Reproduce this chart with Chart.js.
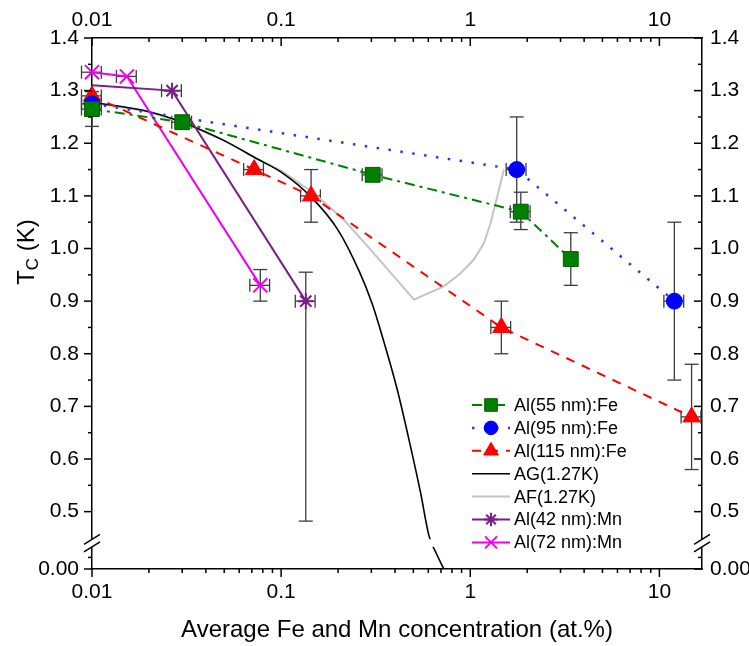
<!DOCTYPE html>
<html>
<head>
<meta charset="utf-8">
<script src="https://cdn.jsdelivr.net/npm/chart.js@4.4.1/dist/chart.umd.min.js"></script>
<style>
  body { margin: 0; background: #fff; }
  #wrap { width: 749px; height: 646px; }
</style>
</head>
<body>
<div id="wrap"><canvas id="myChart" width="749" height="646"></canvas></div>
<script>
// values
const fe55X = [0.01, 0.03, 0.305, 1.85, 3.4];
const fe55Y = [1.265, 1.24, 1.14, 1.07, 0.98];
const fe55Lo = [1.232, null, null, 1.036, 0.93];
const fe55Hi = [1.298, null, null, 1.107, 1.03];
const fe55Xerr = [0.12, 0.12, 0.12, 0.12, 0];

const fe95X = [0.01, 1.76, 12];
const fe95Y = [1.275, 1.15, 0.9];
const fe95Lo = [null, 1.05, 0.75];
const fe95Hi = [null, 1.25, 1.05];
const fe95Xerr = [0.12, 0.12, 0.12];

const fe115X = [0.01, 0.072, 0.144, 1.46, 14.8];
const fe115Y = [1.29, 1.15, 1.10, 0.85, 0.68];
const fe115Lo = [null, null, 1.05, 0.80, 0.58];
const fe115Hi = [null, null, 1.15, 0.90, 0.78];
const fe115Xerr = [0.12, 0.12, 0.12, 0.12, 0.12];

const mn42X = [0.01, 0.0265, 0.135];
const mn42Y = [1.31, 1.30, 0.90];
const mn42Lo = [null, null, 0.482];
const mn42Hi = [null, null, 0.955];
const mn42Xerr = [0, 0.12, 0.12];

const mn72X = [0.01, 0.0153, 0.0776];
const mn72Y = [1.335, 1.327, 0.93];
const mn72Lo = [null, null, 0.90];
const mn72Hi = [null, null, 0.96];
const mn72Xerr = [0.12, 0.12, 0.12];

// theory curves
const agX = [0.01, 0.02, 0.03, 0.05, 0.075, 0.1, 0.143, 0.2, 0.26, 0.303, 0.335, 0.411, 0.483, 0.546, 0.605, 0.66, 0.725];
const agY = [1.278, 1.26, 1.24, 1.205, 1.17, 1.145, 1.099, 1.035, 0.955, 0.895, 0.845, 0.732, 0.624, 0.536, 0.454, 0.31, 0.0];
const afX = [0.01, 0.02, 0.03, 0.05, 0.075, 0.1, 0.149, 0.214, 0.297, 0.394, 0.504, 0.725, 0.889, 1.045, 1.18, 1.28, 1.39, 1.506];
const afY = [1.278, 1.26, 1.24, 1.205, 1.17, 1.148, 1.105, 1.055, 0.998, 0.947, 0.903, 0.928, 0.953, 0.979, 1.010, 1.048, 1.099, 1.15];

const xTickVals = [0.01, 0.1, 1, 10];
const xTickLabels = ['0.01', '0.1', '1', '10'];
const yTickVals = [0.391, 0.5, 0.6, 0.7, 0.8, 0.9, 1.0, 1.1, 1.2, 1.3, 1.4];
const yTickLabels = ['0.00', '0.5', '0.6', '0.7', '0.8', '0.9', '1.0', '1.1', '1.2', '1.3', '1.4'];
const yMinorVals = [0.55, 0.65, 0.75, 0.85, 0.95, 1.05, 1.15, 1.25, 1.35];

// broken y axis: 0 .. 0.45 squeezed under the break
const Y_BOTTOM = 0.391;
function brk(v) {
    if (v >= 0.45) return v;
    return Y_BOTTOM + v * (0.435 - Y_BOTTOM) / 0.45;
}

function pts(xs, ys) {
    return xs.map((x, i) => ({ x: x, y: brk(ys[i]) }));
}

const FONT = '"Liberation Sans", Arial, sans-serif';

const datasets = [
    {
        label: 'Al(55 nm):Fe', data: pts(fe55X, fe55Y),
        borderColor: '#008000', borderWidth: 2, borderDash: [10, 5, 3, 5],
        pointStyle: 'rect', pointRadius: 10.5, pointBackgroundColor: '#008000',
        pointBorderColor: '#005c00', pointBorderWidth: 1,
        errLo: fe55Lo, errHi: fe55Hi, xErr: fe55Xerr, order: 1
    },
    {
        label: 'Al(95 nm):Fe', data: pts(fe95X, fe95Y),
        borderColor: '#3030ff', borderWidth: 2.5, borderDash: [2.5, 9.5],
        pointStyle: 'circle', pointRadius: 8, pointBackgroundColor: '#0000ff',
        pointBorderColor: '#0000ff', pointBorderWidth: 1,
        errLo: fe95Lo, errHi: fe95Hi, xErr: fe95Xerr, order: 1
    },
    {
        label: 'Al(115 nm):Fe', data: pts(fe115X, fe115Y),
        borderColor: '#ff0000', borderWidth: 2, borderDash: [9, 8],
        pointStyle: 'triangle', pointRadius: 10, pointBackgroundColor: '#ff0000',
        pointBorderColor: '#ff0000', pointBorderWidth: 1,
        errLo: fe115Lo, errHi: fe115Hi, xErr: fe115Xerr, order: 1
    },
    {
        label: 'AG(1.27K)', data: pts(agX, agY),
        borderColor: '#000000', borderWidth: 1.6, pointRadius: 0, order: 3,
        cubicInterpolationMode: 'monotone'
    },
    {
        label: 'AF(1.27K)', data: pts(afX, afY),
        borderColor: '#c4c4c4', borderWidth: 2, pointRadius: 0, order: 3
    },
    {
        label: 'Al(42 nm):Mn', data: pts(mn42X, mn42Y),
        borderColor: '#7a1f86', borderWidth: 2,
        pointStyle: 'star', pointRadius: [0, 8, 8], legendRadius: 8, pointBackgroundColor: '#7a1f86',
        pointBorderColor: '#7a1f86', pointBorderWidth: 2,
        errLo: mn42Lo, errHi: mn42Hi, xErr: mn42Xerr, order: 2
    },
    {
        label: 'Al(72 nm):Mn', data: pts(mn72X, mn72Y),
        borderColor: '#f000f0', borderWidth: 2,
        pointStyle: 'crossRot', pointRadius: 10, pointBackgroundColor: '#f000f0',
        pointBorderColor: '#f000f0', pointBorderWidth: 2,
        errLo: mn72Lo, errHi: mn72Hi, xErr: mn72Xerr, order: 2
    }
];
datasets.forEach(d => { d.tension = 0; d.fill = false; d.clip = false; });

// error bars, drawn under the markers
const errorBars = {
    id: 'errorBars',
    beforeDatasetsDraw(chart) {
        const ctx = chart.ctx;
        const xs = chart.scales.x, ys = chart.scales.y;
        ctx.save();
        ctx.strokeStyle = '#3c3c3c';
        ctx.lineWidth = 1.3;
        const seg = (x1, y1, x2, y2) => { ctx.beginPath(); ctx.moveTo(x1, y1); ctx.lineTo(x2, y2); ctx.stroke(); };
        chart.data.datasets.forEach(ds => {
            if (!ds.errLo) return;
            ds.data.forEach((p, i) => {
                const px = xs.getPixelForValue(p.x);
                const py = ys.getPixelForValue(p.y);
                if (ds.errLo[i] != null) {
                    const lo = ys.getPixelForValue(ds.errLo[i]);
                    const hi = ys.getPixelForValue(ds.errHi[i]);
                    seg(px, lo, px, hi);
                    seg(px - 7, lo, px + 7, lo);
                    seg(px - 7, hi, px + 7, hi);
                }
                if (ds.xErr[i]) {
                    const l = xs.getPixelForValue(p.x * (1 - ds.xErr[i]));
                    const r = xs.getPixelForValue(p.x * (1 + ds.xErr[i]));
                    seg(l, py, r, py);
                    seg(l, py - 6.5, l, py + 6.5);
                    seg(r, py - 6.5, r, py + 6.5);
                }
            });
        });
        ctx.restore();
    }
};

// axis break, tick marks, y title and legend
const decorations = {
    id: 'decorations',
    afterDatasetsDraw(chart) {
        const { ctx, chartArea: a, scales } = chart;
        const b1 = scales.y.getPixelForValue(0.4475);
        const b2 = scales.y.getPixelForValue(0.433);
        ctx.save();
        ctx.fillStyle = '#fff';
        ctx.fillRect(a.left + 2, b1, a.right - a.left - 4, b2 - b1);
        ctx.restore();
    },
    afterDraw(chart) {
        const { ctx, chartArea: a, scales } = chart;
        ctx.save();
        ctx.strokeStyle = '#000';
        ctx.lineWidth = 1.5;
        const seg = (x1, y1, x2, y2) => { ctx.beginPath(); ctx.moveTo(x1, y1); ctx.lineTo(x2, y2); ctx.stroke(); };

        // x ticks: bottom outward, top inward
        const xMinor = [];
        [0.01, 0.1, 1, 10].forEach(d => { for (let k = 2; k <= 9; k++) if (d * k <= scales.x.max) xMinor.push(d * k); });
        xTickVals.forEach(v => {
            const p = scales.x.getPixelForValue(v);
            seg(p, a.bottom, p, a.bottom + 8);
            seg(p, a.top, p, a.top + 8);
        });
        xMinor.forEach(v => {
            const p = scales.x.getPixelForValue(v);
            seg(p, a.bottom, p, a.bottom + 4);
            seg(p, a.top, p, a.top + 4);
        });
        // y ticks: left outward, right inward
        yTickVals.forEach(v => {
            const p = scales.y.getPixelForValue(v);
            seg(a.left, p, a.left - 8, p);
            seg(a.right, p, a.right - 8, p);
        });
        yMinorVals.concat([0.413]).forEach(v => {
            const p = scales.y.getPixelForValue(v);
            seg(a.left, p, a.left - 4, p);
            seg(a.right, p, a.right - 4, p);
        });

        // break marks on both y axes
        const c1 = scales.y.getPixelForValue(0.4475);
        const c2 = scales.y.getPixelForValue(0.433);
        [a.left, a.right].forEach(x => {
            ctx.fillStyle = '#fff';
            ctx.fillRect(x - 3, c1, 6, c2 - c1);
            seg(x - 8, c1 + 5, x + 8, c1 - 5);
            seg(x - 8, c2 + 5, x + 8, c2 - 5);
        });

        // y axis title with subscript
        ctx.fillStyle = '#000';
        ctx.translate(26, 252);
        ctx.rotate(-Math.PI / 2);
        ctx.textBaseline = 'alphabetic';
        const big = '24px ' + FONT, small = '17px ' + FONT;
        ctx.font = big; const wT = ctx.measureText('T').width; const wK = ctx.measureText(' (K)').width;
        ctx.font = small; const wC = ctx.measureText('C').width;
        let x0 = -(wT + wC + wK) / 2;
        ctx.font = big; ctx.fillText('T', x0, 8);
        ctx.font = small; ctx.fillText('C', x0 + wT, 12);
        ctx.font = big; ctx.fillText(' (K)', x0 + wT + wC, 8);
        ctx.restore();

        // legend
        ctx.save();
        chart.data.datasets.forEach((ds, i) => {
            const y = 405 + i * 22.9;
            ctx.strokeStyle = ds.borderColor;
            ctx.lineWidth = ds.borderWidth;
            ctx.setLineDash(ds.borderDash || []);
            seg(472, y, 510, y);
            ctx.setLineDash([]);
            const r = ds.legendRadius || ds.pointRadius;
            if (r > 0) {
                ctx.fillStyle = ds.pointBackgroundColor;
                ctx.strokeStyle = ds.pointBorderColor;
                ctx.lineWidth = ds.pointBorderWidth;
                Chart.helpers.drawPoint(ctx, {
                    pointStyle: ds.pointStyle, radius: r * 0.85,
                    rotation: 0, borderWidth: ds.pointBorderWidth
                }, 491, y);
            }
            ctx.fillStyle = '#000';
            ctx.font = '18px ' + FONT;
            ctx.textBaseline = 'middle';
            ctx.fillText(ds.label, 514, y + 1);
        });
        ctx.restore();
    }
};

const tickFont = { family: FONT, size: 21 };

new Chart(document.getElementById('myChart'), {
    type: 'line',
    data: { datasets: datasets },
    options: {
        responsive: false,
        animation: false,
        events: [],
        layout: { padding: 0 },
        plugins: { legend: { display: false }, tooltip: { enabled: false } },
        scales: {
            x: {
                type: 'logarithmic', position: 'bottom', min: 0.01, max: 16.8,
                afterFit: s => { s.height = 77; },
                afterBuildTicks: s => { s.ticks = xTickVals.map(v => ({ value: v })); },
                grid: { display: true, drawOnChartArea: false, drawTicks: false },
                border: { display: true, color: '#000', width: 1.5 },
                ticks: { color: '#000', font: tickFont, padding: 11, maxRotation: 0,
                    callback: (v, i) => xTickLabels[i] },
                title: { display: true, text: 'Average Fe and Mn concentration (at.%)', color: '#000',
                    font: { family: FONT, size: 24 }, padding: { top: 0, bottom: 1 } }
            },
            x2: {
                type: 'logarithmic', position: 'top', min: 0.01, max: 16.8,
                afterFit: s => { s.height = 38; },
                afterBuildTicks: s => { s.ticks = xTickVals.map(v => ({ value: v })); },
                grid: { display: true, drawOnChartArea: false, drawTicks: false },
                border: { display: true, color: '#000', width: 1.5 },
                ticks: { color: '#000', font: tickFont, padding: 5, maxRotation: 0,
                    callback: (v, i) => xTickLabels[i] }
            },
            y: {
                type: 'linear', position: 'left', min: Y_BOTTOM, max: 1.4,
                afterFit: s => { s.width = 92; },
                afterBuildTicks: s => { s.ticks = yTickVals.map(v => ({ value: v })); },
                grid: { display: true, drawOnChartArea: false, drawTicks: false },
                border: { display: true, color: '#000', width: 1.5 },
                ticks: { color: '#000', font: tickFont, padding: 13,
                    callback: (v, i) => yTickLabels[i] }
            },
            y2: {
                type: 'linear', position: 'right', min: Y_BOTTOM, max: 1.4,
                afterFit: s => { s.width = 47; },
                afterBuildTicks: s => { s.ticks = yTickVals.map(v => ({ value: v })); },
                grid: { display: true, drawOnChartArea: false, drawTicks: false },
                border: { display: true, color: '#000', width: 1.5 },
                ticks: { color: '#000', font: tickFont, padding: 8,
                    callback: (v, i) => yTickLabels[i] }
            }
        }
    },
    plugins: [errorBars, decorations]
});
</script>
</body>
</html>
